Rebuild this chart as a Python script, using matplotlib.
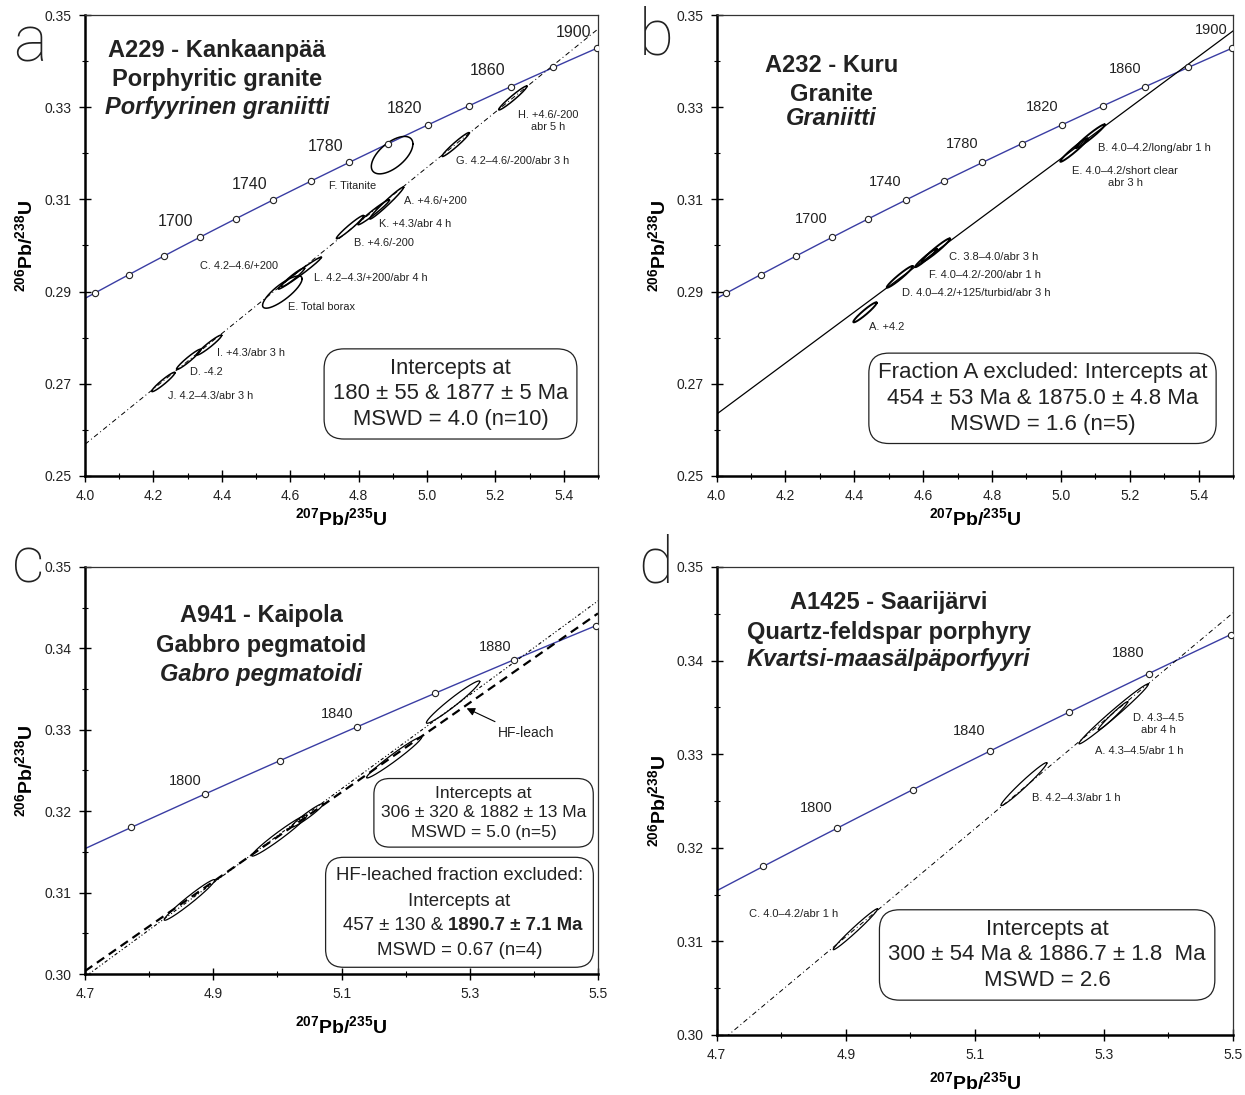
import numpy as np
import matplotlib
matplotlib.use('Agg')
import matplotlib.pyplot as plt
from matplotlib.patches import FancyBboxPatch
from matplotlib.ticker import FormatStrFormatter

plt.rcParams['font.family'] = ['Liberation Sans', 'DejaVu Sans']
plt.rcParams['mathtext.fontset'] = 'custom'
plt.rcParams['mathtext.rm'] = 'Liberation Sans'
plt.rcParams['mathtext.bf'] = 'Liberation Sans:bold'

# decay constants (1/Ma)
L238 = 1.55125e-4
L235 = 9.8485e-4

# ---- panel a : A229 Kankaanpää ----
a_lower, a_upper = 180, 1877
a_x = [4.882, 4.775, 4.608, 4.303, 4.577, 4.898, 5.084, 5.251, 4.363, 4.229, 4.844, 4.628]
a_y = [0.3092, 0.3040, 0.2931, 0.2753, 0.2899, 0.3196, 0.3219, 0.3320, 0.2784, 0.2704, 0.3072, 0.2940]
a_ex = [0.0496, 0.0400, 0.0340, 0.0355, 0.0578, 0.0608, 0.0399, 0.0415, 0.0365, 0.0340, 0.0460, 0.0630]
a_ey = [0.00347, 0.00253, 0.00204, 0.00220, 0.00350, 0.00406, 0.00260, 0.00260, 0.00217, 0.00210, 0.00270, 0.00347]
a_rho = [0.98, 0.97, 0.955, 0.96, 0.82, 0.6, 0.97, 0.97, 0.96, 0.955, 0.975, 0.985]
a_lab = ['A. +4.6/+200', 'B. +4.6/-200', 'C. 4.2–4.6/+200', 'D. -4.2', 'E. Total borax',
         'F. Titanite', 'G. 4.2–4.6/-200/abr 3 h', 'H. +4.6/-200\nabr 5 h', 'I. +4.3/abr 3 h',
         'J. 4.2–4.3/abr 3 h', 'K. +4.3/abr 4 h', 'L. 4.2–4.3/+200/abr 4 h']
a_lx = [4.934, 4.788, 4.336, 4.307, 4.594, 4.713, 5.085, 5.265, 4.386, 4.243, 4.859, 4.669]
a_ly = [0.3097, 0.3006, 0.2956, 0.2725, 0.2867, 0.3128, 0.3183, 0.3270, 0.2766, 0.2674, 0.3047, 0.2929]

# ---- panel b : A232 Kuru ----
b_lower, b_upper = 454, 1875
b_x = [4.431, 5.085, 4.637, 4.532, 5.038, 4.608]
b_y = [0.2855, 0.3237, 0.2990, 0.2932, 0.3207, 0.2973]
b_ex = [0.0340, 0.0427, 0.0410, 0.0378, 0.0400, 0.0315]
b_ey = [0.00217, 0.00258, 0.00254, 0.00235, 0.00254, 0.00200]
b_rho = [0.955, 0.97, 0.97, 0.965, 0.97, 0.97]
b_lab = ['A. +4.2', 'B. 4.0–4.2/long/abr 1 h', 'C. 3.8–4.0/abr 3 h',
         'D. 4.0–4.2/+125/turbid/abr 3 h', 'E. 4.0–4.2/short clear\nabr 3 h', 'F. 4.0–4.2/-200/abr 1 h']
b_lx = [4.4435, 5.1086, 4.6759, 4.5376, 5.0325, 4.6178]
b_ly = [0.2824, 0.3212, 0.2976, 0.2896, 0.3149, 0.2936]

# ---- panel c : A941 Kaipola ----
c_lower, c_upper = 306, 1882          # all fractions
c2_lower, c2_upper = 457, 1890.7      # HF-leached fraction excluded
c_x = [5.274, 5.182, 5.003, 5.047, 4.863]
c_y = [0.3334, 0.3266, 0.3170, 0.3195, 0.3091]
c_ex = [0.0416, 0.0429, 0.0429, 0.0246, 0.0395]
c_ey = [0.00260, 0.00252, 0.00252, 0.00144, 0.00250]
c_rho = [0.97, 0.977, 0.975, 0.964, 0.975]

# ---- panel d : A1425 Saarijärvi ----
d_lower, d_upper = 300, 1886.7
d_x = [5.315, 5.314, 5.176, 4.915]
d_y = [0.3343, 0.3341, 0.3268, 0.3113]
d_ex = [0.0537, 0.0229, 0.0356, 0.0344]
d_ey = [0.00320, 0.00151, 0.00230, 0.00219]
d_rho = [0.988, 0.98, 0.98, 0.986]
d_lab = ['D. 4.3–4.5\nabr 4 h', 'A. 4.3–4.5/abr 1 h', 'B. 4.2–4.3/abr 1 h', 'C. 4.0–4.2/abr 1 h']
d_lx = [5.3446, 5.2856, 5.1891, 4.7494]
d_ly = [0.3332, 0.3303, 0.3253, 0.3129]

# concordia age marks
ab_marks = list(range(1640, 1901, 20))
ab_labels = [1700, 1740, 1780, 1820, 1860, 1900]
cd_marks = list(range(1780, 1901, 20))
cd_labels = [1800, 1840, 1880]

ab_xticks = [4.0, 4.2, 4.4, 4.6, 4.8, 5.0, 5.2, 5.4]
ab_yticks = [0.25, 0.27, 0.29, 0.31, 0.33, 0.35]
cd_xticks = [4.7, 4.9, 5.1, 5.3, 5.5]
cd_yticks = [0.30, 0.31, 0.32, 0.33, 0.34, 0.35]

BLUE = '#3a3da3'


def conc(t):
    t = np.asarray(t, dtype=float)
    return np.exp(L235 * t) - 1, np.exp(L238 * t) - 1


def frame(ax, xlim, ylim, xt, yt, xstep, ystep, xfmt, ylab_x, xlab_y):
    ax.set_xlim(xlim)
    ax.set_ylim(ylim)
    ax.set_xticks(xt)
    ax.set_yticks(yt)
    ax.set_xticks(np.arange(xlim[0], xlim[1] + 1e-9, xstep), minor=True)
    ax.set_yticks(np.arange(ylim[0], ylim[1] + 1e-9, ystep), minor=True)
    ax.xaxis.set_major_formatter(FormatStrFormatter(xfmt))
    ax.yaxis.set_major_formatter(FormatStrFormatter('%.2f'))
    ax.tick_params(which='major', direction='inout', length=9, width=1.0,
                   labelsize=10, pad=5, labelcolor='#222')
    ax.tick_params(which='minor', direction='inout', length=5, width=0.8)
    for s in ['left', 'bottom']:
        ax.spines[s].set_linewidth(1.8)
    for s in ['top', 'right']:
        ax.spines[s].set_linewidth(0.9)
        ax.spines[s].set_color('#333')
    ax.set_xlabel(r'$\mathbf{^{207}Pb/^{235}U}$', fontsize=14)
    ax.set_ylabel(r'$\mathbf{^{206}Pb/^{238}U}$', fontsize=14)
    ax.yaxis.set_label_coords(ylab_x, 0.5)
    ax.xaxis.set_label_coords(0.5, xlab_y)


def concordia(ax, marks, labels, off, fs):
    x, y = conc(np.linspace(1400, 2000, 400))
    ax.plot(x, y, color=BLUE, lw=1.0, zorder=2)
    mx, my = conc(marks)
    ax.plot(mx, my, 'o', ls='none', ms=4.5, mfc='white', mec='#222', mew=0.8, zorder=5)
    for t in labels:
        lx, ly = conc(t)
        ax.annotate(str(t), (lx, ly), xytext=off, textcoords='offset points',
                    ha='center', va='center', fontsize=fs, color='#222')


def discordia(ax, t_lo, t_up, **kw):
    x0, y0 = conc(t_lo)
    x1, y1 = conc(t_up)
    xs = np.array(ax.get_xlim())
    ax.plot(xs, y0 + (y1 - y0) / (x1 - x0) * (xs - x0), color='black', zorder=2, **kw)


def ellipses(ax, cx, cy, ex, ey, rho, lw=1.1):
    t = np.linspace(0, 2 * np.pi, 200)
    for x, y, sx, sy, r in zip(cx, cy, ex, ey, rho):
        ax.plot(x + sx * np.cos(t), y + sy * (r * np.cos(t) + np.sqrt(1 - r * r) * np.sin(t)),
                color='black', lw=lw, zorder=3)


def labels(ax, txt, lx, ly, fs):
    for s, x, y in zip(txt, lx, ly):
        ax.text(x, y, s, fontsize=fs, ha='left', va='center', multialignment='center',
                color='#222', linespacing=1.25)


def heading(ax, x, ys, lines, fs):
    ax.text(x, ys[0], lines[0], transform=ax.transAxes, ha='center', va='center',
            fontsize=fs, fontweight='bold', color='#222')
    ax.text(x, ys[1], lines[1], transform=ax.transAxes, ha='center', va='center',
            fontsize=fs, fontweight='bold', color='#222')
    ax.text(x, ys[2], lines[2], transform=ax.transAxes, ha='center', va='center',
            fontsize=fs, fontweight='bold', style='italic', color='#222')


def box(ax, x, y, txt, fs, ls=1.3):
    ax.text(x, y, txt, transform=ax.transAxes, ha='center', va='center', fontsize=fs,
            linespacing=ls, color='#222', zorder=6,
            bbox=dict(boxstyle='round,pad=0.4,rounding_size=0.9', fc='white', ec='#222', lw=0.9))


fig = plt.figure(figsize=(12.45, 10.95), dpi=100)
ax_a = fig.add_axes([0.0683, 0.5653, 0.4120, 0.4210])
ax_b = fig.add_axes([0.5756, 0.5653, 0.4148, 0.4210])
ax_c = fig.add_axes([0.0683, 0.1105, 0.4120, 0.3717])
ax_d = fig.add_axes([0.5756, 0.0548, 0.4148, 0.4274])

# a
frame(ax_a, (4.0, 5.5), (0.25, 0.35), ab_xticks, ab_yticks, 0.1, 0.01, '%.1f', -0.095, -0.068)
concordia(ax_a, ab_marks, ab_labels, (-17, 11.5), 11.5)
discordia(ax_a, a_lower, a_upper, lw=0.7, dashes=(5, 3, 1, 3))
ellipses(ax_a, a_x, a_y, a_ex, a_ey, a_rho)
labels(ax_a, a_lab, a_lx, a_ly, 7.9)
heading(ax_a, 0.257, [0.924, 0.8605, 0.800], ['A229 - Kankaanpää', 'Porphyritic granite',
                                              'Porfyyrinen graniitti'], 17)
box(ax_a, 0.7125, 0.178, 'Intercepts at\n180 ± 55 & 1877 ± 5 Ma\nMSWD = 4.0 (n=10)', 15.8)

# b
frame(ax_b, (4.0, 5.5), (0.25, 0.35), ab_xticks, ab_yticks, 0.1, 0.01, '%.1f', -0.092, -0.068)
concordia(ax_b, ab_marks, ab_labels, (-14.5, 13), 10.5)
discordia(ax_b, b_lower, b_upper, lw=0.9)
ellipses(ax_b, b_x, b_y, b_ex, b_ey, b_rho, lw=1.4)
labels(ax_b, b_lab, b_lx, b_ly, 8)
heading(ax_b, 0.2225, [0.8915, 0.8265, 0.776], ['A232 - Kuru', 'Granite', 'Graniitti'], 17)
box(ax_b, 0.631, 0.1685, 'Fraction A excluded: Intercepts at\n454 ± 53 Ma & 1875.0 ± 4.8 Ma\n'
    'MSWD = 1.6 (n=5)', 16)

# c
frame(ax_c, (4.7, 5.5), (0.30, 0.35), cd_xticks, cd_yticks, 0.1, 0.005, '%.1f', -0.095, -0.10)
concordia(ax_c, cd_marks, cd_labels, (-14, 9.3), 10.5)
discordia(ax_c, c_lower, c_upper, lw=0.8, dashes=(3, 2, 1, 2, 1, 2))
discordia(ax_c, c2_lower, c2_upper, lw=1.6, dashes=(4, 2.5))
ellipses(ax_c, c_x, c_y, c_ex, c_ey, c_rho, lw=0.9)
heading(ax_c, 0.344, [0.882, 0.808, 0.735], ['A941 - Kaipola', 'Gabbro pegmatoid',
                                             'Gabro pegmatoidi'], 17)
ax_c.annotate('', xy=(5.2952, 0.33264), xytext=(5.3394, 0.33100),
              arrowprops=dict(arrowstyle='-|>', color='black', lw=0.8, mutation_scale=12,
                              shrinkA=0, shrinkB=0))
ax_c.text(5.3445, 0.32964, 'HF-leach', ha='left', va='center', fontsize=10, color='#222')
box(ax_c, 0.777, 0.396, 'Intercepts at\n306 ± 320 & 1882 ± 13 Ma\nMSWD = 5.0 (n=5)', 12.6, ls=1.4)
ax_c.add_patch(FancyBboxPatch((0.469, 0.0165), 0.522, 0.2702, transform=ax_c.transAxes,
                              boxstyle='round,pad=0,rounding_size=0.035', mutation_aspect=1.26,
                              fc='white', ec='#222', lw=0.9, zorder=6))
ax_c.text(0.730, 0.2408, 'HF-leached fraction excluded:', transform=ax_c.transAxes,
          ha='center', va='center', fontsize=13.4, color='#222', zorder=7)
ax_c.text(0.730, 0.1776, 'Intercepts at', transform=ax_c.transAxes,
          ha='center', va='center', fontsize=13.4, color='#222', zorder=7)
ax_c.text(0.699, 0.1187, '457 ± 130 &', transform=ax_c.transAxes,
          ha='right', va='center', fontsize=13.4, color='#222', zorder=7)
ax_c.text(0.708, 0.1187, '1890.7 ± 7.1 Ma', transform=ax_c.transAxes,
          ha='left', va='center', fontsize=13.4, fontweight='bold', color='#222', zorder=7)
ax_c.text(0.730, 0.0572, 'MSWD = 0.67 (n=4)', transform=ax_c.transAxes,
          ha='center', va='center', fontsize=13.4, color='#222', zorder=7)

# d
frame(ax_d, (4.7, 5.5), (0.30, 0.35), cd_xticks, cd_yticks, 0.1, 0.005, '%.1f', -0.092, -0.077)
concordia(ax_d, cd_marks, cd_labels, (-15, 14.5), 10.5)
discordia(ax_d, d_lower, d_upper, lw=0.7, dashes=(5, 3, 1, 3))
ellipses(ax_d, d_x, d_y, d_ex, d_ey, d_rho, lw=0.9)
labels(ax_d, d_lab, d_lx, d_ly, 8)
heading(ax_d, 0.333, [0.925, 0.861, 0.803], ['A1425 - Saarijärvi', 'Quartz-feldspar porphyry',
                                             'Kvartsi-maasälpäporfyyri'], 17)
box(ax_d, 0.640, 0.171, 'Intercepts at\n300 ± 54 Ma & 1886.7 ± 1.8  Ma\nMSWD = 2.6', 16)

# panel letters, tucked left of the top tick labels
for s, x, y in [('a', 0.024, 0.944), ('b', 0.527, 0.950), ('c', 0.023, 0.468), ('d', 0.527, 0.468)]:
    fig.text(x, y, s, fontsize=46, family='Roboto', fontweight='light', color='#222',
             ha='center', va='baseline')

fig.savefig('out.png', dpi=100)
